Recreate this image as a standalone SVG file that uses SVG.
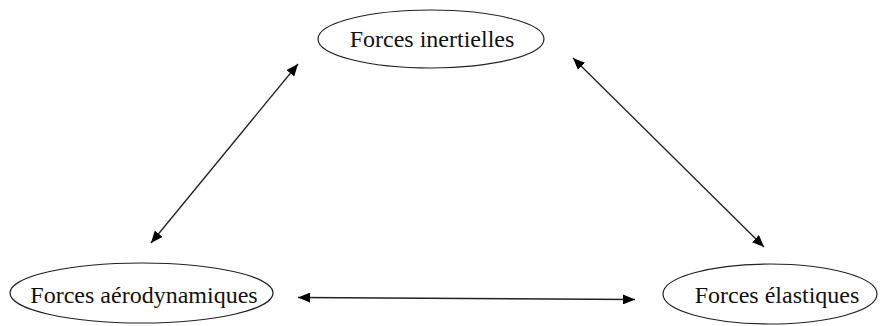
<svg xmlns="http://www.w3.org/2000/svg" width="880" height="326" viewBox="0 0 880 326">
  <style>
    .node ellipse { fill: #ffffff; stroke: #222222; stroke-width: 1.2; }
    .node text { font-family: "Liberation Serif", "Times New Roman", serif; font-size: 24px; fill: #111111; }
    .conn line { stroke: #222222; stroke-width: 1.3; marker-start: url(#arrow); marker-end: url(#arrow); }
  </style>
  <defs>
    <marker id="arrow" viewBox="0 0 12 10" refX="12" refY="5" markerWidth="12" markerHeight="10" markerUnits="userSpaceOnUse" orient="auto-start-reverse">
      <path d="M0,0 L12,5 L0,10 z" fill="#000000"/>
    </marker>
  </defs>
  <rect width="880" height="326" fill="#ffffff"/>
  <g id="connectors" class="conn">
    <line x1="298" y1="64" x2="151" y2="243"/>
    <line x1="573" y1="58" x2="764" y2="247"/>
    <line x1="298" y1="297.5" x2="635" y2="299.5"/>
  </g>
  <g id="node-inertielles" class="node">
    <ellipse cx="431" cy="39" rx="113" ry="29"/>
    <text x="432" y="47" text-anchor="middle">Forces inertielles</text>
  </g>
  <g id="node-aerodynamiques" class="node">
    <ellipse cx="141.5" cy="293" rx="131.5" ry="30"/>
    <text x="144" y="303" text-anchor="middle">Forces aérodynamiques</text>
  </g>
  <g id="node-elastiques" class="node">
    <ellipse cx="770" cy="294" rx="107" ry="30"/>
    <text x="777" y="303" text-anchor="middle">Forces élastiques</text>
  </g>
</svg>
